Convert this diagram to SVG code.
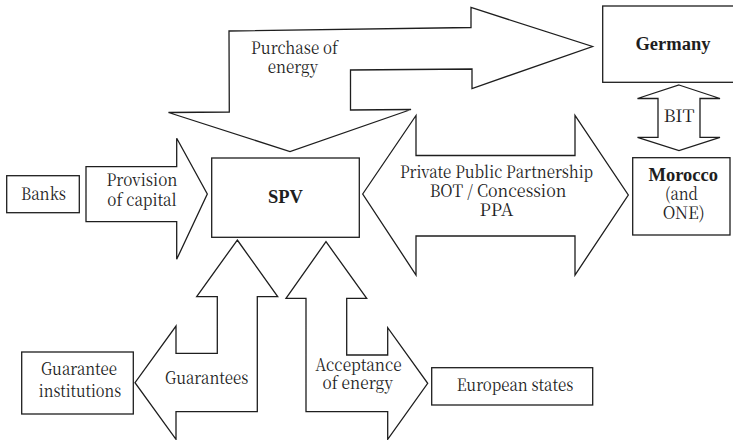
<svg xmlns="http://www.w3.org/2000/svg" width="733" height="440" viewBox="0 0 733 440">
  <style>
    .shape { fill: #ffffff; stroke: #1e1e1e; stroke-width: 1.3; stroke-linejoin: miter; }
    .t { font-family: 'Noto Serif CJK SC', 'Liberation Serif', serif; font-size: 17px; font-weight: 400; fill: #1e1e1e; text-anchor: middle; }
    .b { font-family: 'Liberation Serif', serif; font-size: 18.5px; font-weight: 700; fill: #1e1e1e; text-anchor: middle; }
  </style>
  <rect width="733" height="440" fill="#ffffff"/>

  <!-- block arrows -->
  <g id="connectors">
    <g id="purchase-of-energy">
      <polygon class="shape" points="229,31 471,27.5 471,7.5 592.5,46.5 472,88.5 472,69 350.5,70 350.5,110 411,109.5 290,151.5 168.5,112.5 229.3,112"/>
      <text class="t" x="294.5" y="54" textLength="86.8" lengthAdjust="spacingAndGlyphs">Purchase of</text>
      <text class="t" x="293" y="73" textLength="50.3" lengthAdjust="spacingAndGlyphs">energy</text>
    </g>
    <g id="provision-of-capital">
      <polygon class="shape" points="86,166.7 176.7,166.7 176.7,138.3 207.3,194 176.7,259.3 176.7,221.7 86,221.7"/>
      <text class="t" x="142" y="186" textLength="70.9" lengthAdjust="spacingAndGlyphs">Provision</text>
      <text class="t" x="142" y="205.5" textLength="69.4" lengthAdjust="spacingAndGlyphs">of capital</text>
    </g>
    <g id="ppp">
      <polygon class="shape" points="362.7,194 416,115.5 416,155.5 575,155.5 575,115.5 628.3,195 575,275 575,236 416,236 416,275"/>
      <text class="t" x="496.5" y="177.5" textLength="193.2" lengthAdjust="spacingAndGlyphs">Private Public Partnership</text>
      <text class="t" x="498" y="196.7" textLength="136.7" lengthAdjust="spacingAndGlyphs">BOT / Concession</text>
      <text class="t" x="496.5" y="215.7" textLength="33.9" lengthAdjust="spacingAndGlyphs">PPA</text>
    </g>
    <g id="bit">
      <polygon class="shape" points="679,85 720,98.5 700,98.5 700,137.3 720,137.3 679,150.5 637.5,137.3 658,137.3 658,98.5 637.5,98.5"/>
      <text class="t" x="679" y="121.5" textLength="31" lengthAdjust="spacingAndGlyphs">BIT</text>
    </g>
    <g id="guarantees">
      <polygon class="shape" points="237.3,240 277.7,296.7 257.3,296.7 257.3,411.7 176,411.7 176,439.3 135,382.7 176,326 176,353.3 217.3,353.3 217.3,296.7 196.7,296.7"/>
      <text class="t" x="206.7" y="384" textLength="83.2" lengthAdjust="spacingAndGlyphs">Guarantees</text>
    </g>
    <g id="acceptance-of-energy">
      <polygon class="shape" points="326,241.7 366.7,298.3 346.7,298.3 346.7,355 387.7,355 387.7,327.7 427.7,383.3 387.7,439.3 387.7,411.7 306,411.7 306,298.3 286,298.3"/>
      <text class="t" x="358.5" y="370.7" textLength="86.3" lengthAdjust="spacingAndGlyphs">Acceptance</text>
      <text class="t" x="357.7" y="389.3" textLength="70.4" lengthAdjust="spacingAndGlyphs">of energy</text>
    </g>
  </g>

  <!-- parties -->
  <g id="banks">
    <rect class="shape" x="6.7" y="175.7" width="72.6" height="37"/>
    <text class="t" x="43.5" y="200" textLength="45" lengthAdjust="spacingAndGlyphs">Banks</text>
  </g>
  <g id="spv">
    <rect class="shape" x="211.7" y="158" width="147.6" height="79.3"/>
    <text class="b" x="285.5" y="203">SPV</text>
  </g>
  <g id="germany">
    <rect class="shape" x="602.7" y="6" width="142" height="76.3"/>
    <text class="b" x="673" y="50">Germany</text>
  </g>
  <g id="morocco">
    <rect class="shape" x="632.7" y="157.7" width="97.3" height="77.3"/>
    <text class="b" x="683.3" y="181">Morocco</text>
    <text class="t" x="681.5" y="200" textLength="32.9" lengthAdjust="spacingAndGlyphs">(and</text>
    <text class="t" x="683.7" y="219" textLength="42" lengthAdjust="spacingAndGlyphs">ONE)</text>
  </g>
  <g id="guarantee-institutions">
    <rect class="shape" x="21.7" y="352" width="111.6" height="62"/>
    <text class="t" x="79" y="375" textLength="76" lengthAdjust="spacingAndGlyphs">Guarantee</text>
    <text class="t" x="80" y="396.7" textLength="82.3" lengthAdjust="spacingAndGlyphs">institutions</text>
  </g>
  <g id="european-states">
    <rect class="shape" x="431.7" y="367.7" width="161" height="37.3"/>
    <text class="t" x="515" y="391" textLength="116.6" lengthAdjust="spacingAndGlyphs">European states</text>
  </g>
</svg>
